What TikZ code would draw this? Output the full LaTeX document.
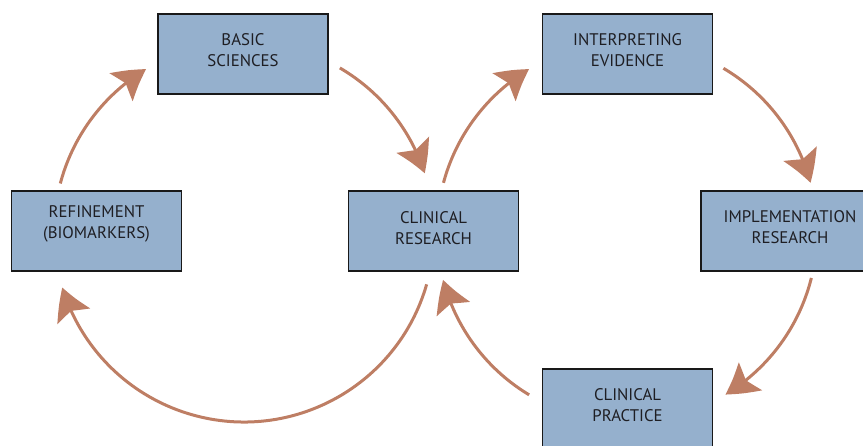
\documentclass[tikz,border=0pt]{standalone}
\usepackage{fontspec}
\setmainfont{PT Sans}
\usetikzlibrary{arrows.meta,bending}
\definecolor{boxfill}{RGB}{149,176,205}
\definecolor{arrowc}{RGB}{190,126,100}
\definecolor{txt}{RGB}{30,30,35}
\begin{document}
\begin{tikzpicture}[x=1pt,y=1pt,
  stagebox/.style={draw=black!90, line width=1.6pt, fill=boxfill, minimum width=170pt, minimum height=80pt, inner sep=0pt},
  stagetext/.style={text=txt, align=center, font=\fontsize{16.8}{21.5}\selectfont},
  cyc/.style={draw=arrowc, line width=3pt, -{Stealth[length=31pt,width=36pt,inset=6pt,bend]}}]
\useasboundingbox (0,0) rectangle (863,446);
\clip (0,0) rectangle (863,446);
% centers (y up = 446 - y)
\node[stagebox] (basic) at (243,392) {};
\node[stagetext] (basict) at (243,396) {BASIC\\SCIENCES};
\node[stagebox] (refine) at (96.5,215) {};
\node[stagetext] (refinet) at (96.5,222) {REFINEMENT\\(BIOMARKERS)};
\node[stagebox] (clinres) at (433.5,215) {};
\node[stagetext] (clinrest) at (433.5,218) {CLINICAL\\RESEARCH};
\node[stagebox] (interp) at (627.5,392) {};
\node[stagetext] (interpt) at (627.5,396) {INTERPRETING\\EVIDENCE};
\node[stagebox] (impl) at (786,215) {};
\node[stagetext] (implt) at (790,219) {IMPLEMENTATION\\RESEARCH};
\node[stagebox] (practice) at (627.5,37) {};
\node[stagetext] (practicet) at (627.5,41) {CLINICAL\\PRACTICE};
% circle centres of the two loops
\coordinate (cL) at (244,214);
\coordinate (cR) at (627,214);
% left loop
\draw[cyc] ([shift={(165.2:190)}]cL) arc[start angle=165.2, end angle=121, radius=190];
\draw[cyc] ([shift={(59.7:190)}]cL) arc[start angle=59.7, end angle=18, radius=190];
\draw[cyc] ([shift={(-16:190)}]cL) arc[start angle=-16, end angle=-163, radius=190];
% right loop
\draw[cyc] ([shift={(165:190)}]cR) arc[start angle=165, end angle=121, radius=190];
\draw[cyc] ([shift={(59.5:190)}]cR) arc[start angle=59.5, end angle=15, radius=190];
\draw[cyc] ([shift={(-14:190)}]cR) arc[start angle=-14, end angle=-58.8, radius=190];
\draw[cyc] ([shift={(-121:190)}]cR) arc[start angle=-121, end angle=-165.4, radius=190];
\end{tikzpicture}
\end{document}
